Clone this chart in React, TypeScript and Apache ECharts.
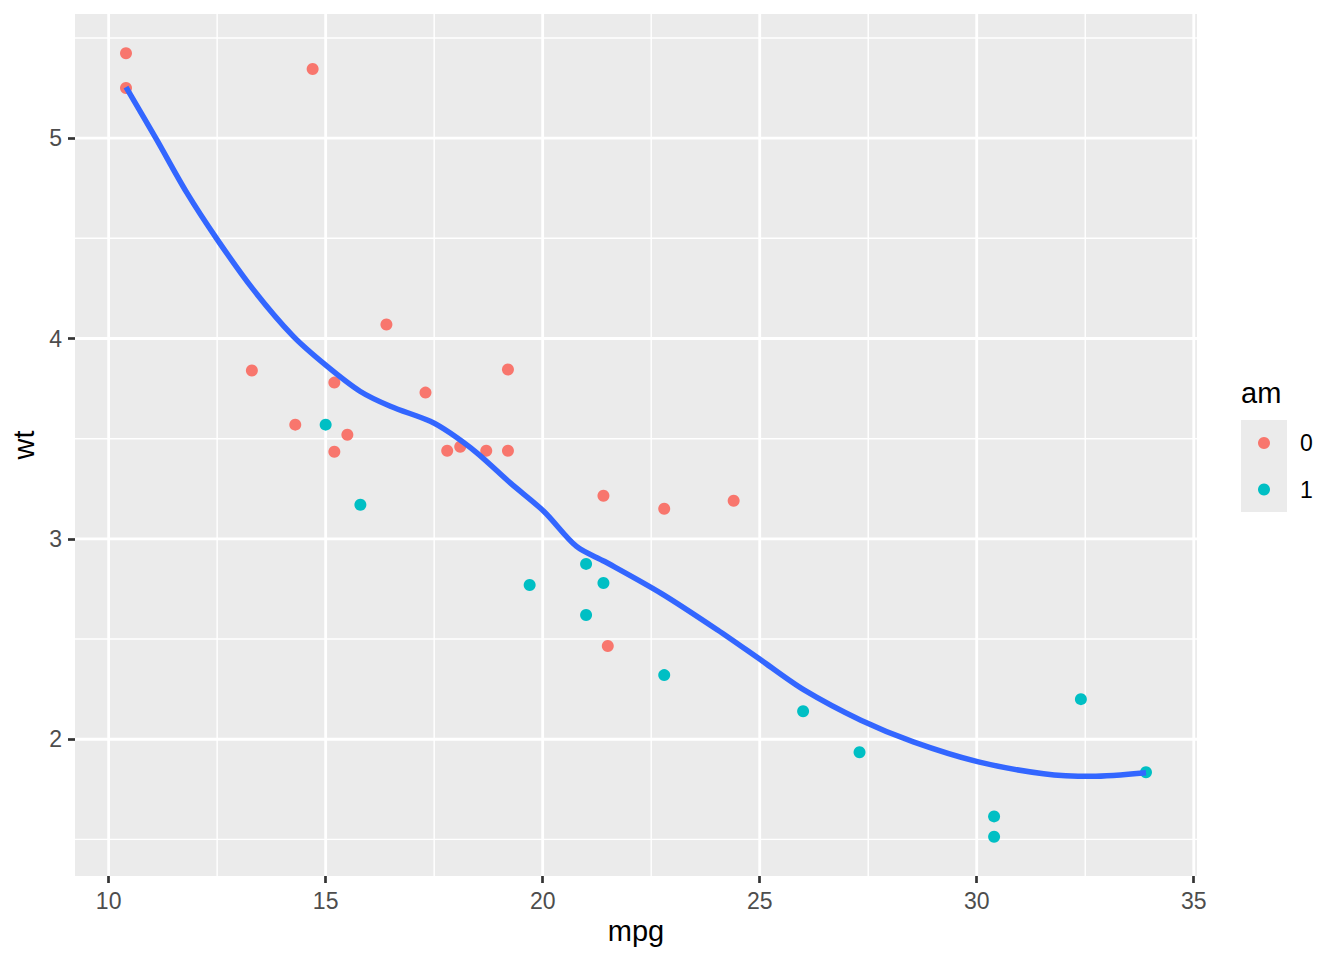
import React, { useEffect, useRef } from "react";
import * as echarts from "echarts";

// mtcars: mpg vs wt, coloured by am
const mpgAm0 = [21.4, 18.7, 18.1, 14.3, 24.4, 22.8, 19.2, 17.8, 16.4, 17.3, 15.2, 10.4, 10.4, 14.7, 21.5, 15.5, 15.2, 13.3, 19.2];
const wtAm0 = [3.215, 3.44, 3.46, 3.57, 3.19, 3.15, 3.44, 3.44, 4.07, 3.73, 3.78, 5.25, 5.424, 5.345, 2.465, 3.52, 3.435, 3.84, 3.845];
const mpgAm1 = [21.0, 21.0, 22.8, 32.4, 30.4, 33.9, 27.3, 26.0, 30.4, 15.8, 19.7, 15.0, 21.4];
const wtAm1 = [2.62, 2.875, 2.32, 2.2, 1.615, 1.835, 1.935, 2.14, 1.513, 3.17, 2.77, 3.57, 2.78];

// loess smooth
const smoothX = [10.4, 11.1, 11.8, 12.5, 13.33, 14.25, 15.03, 15.79, 16.49, 17.41, 17.87, 18.49, 19.26, 20.03, 20.78, 21.43, 22.73, 24.03, 25.03, 26.03, 27.33, 28.54, 30.04, 31.54, 32.64, 33.9];
const smoothY = [5.255, 4.995, 4.728, 4.495, 4.245, 4.012, 3.862, 3.737, 3.662, 3.587, 3.528, 3.428, 3.278, 3.137, 2.962, 2.887, 2.728, 2.545, 2.395, 2.245, 2.095, 1.987, 1.887, 1.828, 1.815, 1.833];

const xTicks = [10, 15, 20, 25, 30, 35];
const xMinor = [12.5, 17.5, 22.5, 27.5, 32.5];
const yTicks = [2, 3, 4, 5];
const yMinor = [1.5, 2.5, 3.5, 4.5, 5.5];
const legendNames = ["0", "1"];
const legendColors = ["#F8766D", "#00BFC4"];

const X_MIN = 9.225;
const X_MAX = 35.075;
const Y_MIN = 1.31745;
const Y_MAX = 5.61955;

const FONT = "'Liberation Sans', Arial, Helvetica, sans-serif";

function zip(a: number[], b: number[]) {
  return a.map((v, i) => [v, b[i]]);
}

export default function App() {
  const ref = useRef<HTMLDivElement>(null);

  useEffect(() => {
    if (!ref.current) return;
    const chart = echarts.init(ref.current, null, { renderer: "svg" });

    const gridData: number[][] = [
      ...xMinor.map((v) => [v, 0, 1.4]),
      ...yMinor.map((v) => [v, 1, 1.4]),
      ...xTicks.map((v) => [v, 0, 2.8]),
      ...yTicks.map((v) => [v, 1, 2.8]),
    ];

    const legendGraphics: any[] = [];
    legendNames.forEach((name, i) => {
      const cy = 443 + i * 46.5;
      legendGraphics.push({
        type: "circle",
        z: 1,
        shape: { cx: 1264, cy, r: 6 },
        style: { fill: legendColors[i] },
        silent: true,
      });
      legendGraphics.push({
        type: "text",
        z: 1,
        x: 1300,
        y: cy,
        style: {
          text: name,
          fontSize: 23,
          fill: "#000000",
          fontFamily: FONT,
          textAlign: "left",
          verticalAlign: "middle",
        },
        silent: true,
      });
    });

    const option: any = {
      animation: false,
      textStyle: { fontFamily: FONT },
      grid: {
        left: 75,
        right: 147,
        top: 14,
        bottom: 84,
        show: true,
        backgroundColor: "#EBEBEB",
        borderWidth: 0,
        containLabel: false,
        outerBoundsMode: "none",
      },
      xAxis: {
        type: "value",
        min: X_MIN,
        max: X_MAX,
        axisLine: { show: false },
        axisTick: {
          show: true,
          customValues: xTicks,
          length: 7,
          lineStyle: { color: "#333333", width: 2.7 },
        },
        axisLabel: {
          customValues: xTicks,
          margin: 13,
          fontSize: 23,
          color: "#4D4D4D",
          fontFamily: FONT,
        },
        splitLine: { show: false },
        name: "mpg",
        nameLocation: "middle",
        nameGap: 38,
        nameTextStyle: { fontSize: 29, color: "#000000", fontFamily: FONT },
      },
      yAxis: {
        type: "value",
        min: Y_MIN,
        max: Y_MAX,
        axisLine: { show: false },
        axisTick: {
          show: true,
          customValues: yTicks,
          length: 7,
          lineStyle: { color: "#333333", width: 2.7 },
        },
        axisLabel: {
          customValues: yTicks,
          margin: 13,
          fontSize: 23,
          color: "#4D4D4D",
          fontFamily: FONT,
        },
        splitLine: { show: false },
        name: "wt",
        nameLocation: "middle",
        nameGap: 36,
        nameTextStyle: { fontSize: 29, color: "#000000", fontFamily: FONT },
      },
      graphic: [
        {
          type: "rect",
          z: 0,
          shape: { x: 1241, y: 420, width: 46, height: 92 },
          style: { fill: "#EBEBEB" },
          silent: true,
        },
        {
          type: "text",
          z: 1,
          x: 1241,
          y: 393,
          style: {
            text: "am",
            fontSize: 29,
            fill: "#000000",
            fontFamily: FONT,
            textAlign: "left",
            verticalAlign: "middle",
          },
          silent: true,
        },
        ...legendGraphics,
      ],
      series: [
        {
          type: "custom",
          name: "grid",
          z: 1,
          silent: true,
          data: gridData,
          renderItem: (params: any, api: any) => {
            const v = api.value(0);
            const dir = api.value(1);
            const w = api.value(2);
            const cs = params.coordSys;
            if (dir === 0) {
              const p = api.coord([v, Y_MIN])[0];
              return {
                type: "line",
                shape: { x1: p, y1: cs.y, x2: p, y2: cs.y + cs.height },
                style: { stroke: "#FFFFFF", lineWidth: w },
              };
            }
            const p = api.coord([X_MIN, v])[1];
            return {
              type: "line",
              shape: { x1: cs.x, y1: p, x2: cs.x + cs.width, y2: p },
              style: { stroke: "#FFFFFF", lineWidth: w },
            };
          },
        },
        {
          type: "scatter",
          name: legendNames[0],
          z: 2,
          symbol: "circle",
          symbolSize: 12,
          itemStyle: { color: legendColors[0], opacity: 1 },
          data: zip(mpgAm0, wtAm0),
        },
        {
          type: "scatter",
          name: legendNames[1],
          z: 2,
          symbol: "circle",
          symbolSize: 12,
          itemStyle: { color: legendColors[1], opacity: 1 },
          data: zip(mpgAm1, wtAm1),
        },
        {
          type: "line",
          name: "loess",
          z: 3,
          showSymbol: false,
          symbol: "none",
          smooth: 0.3,
          lineStyle: { color: "#3366FF", width: 5.5 },
          data: zip(smoothX, smoothY),
        },
      ],
    };

    chart.setOption(option);
    return () => chart.dispose();
  }, []);

  return <div ref={ref} style={{ width: 1344, height: 960, margin: -8 }} />;
}
